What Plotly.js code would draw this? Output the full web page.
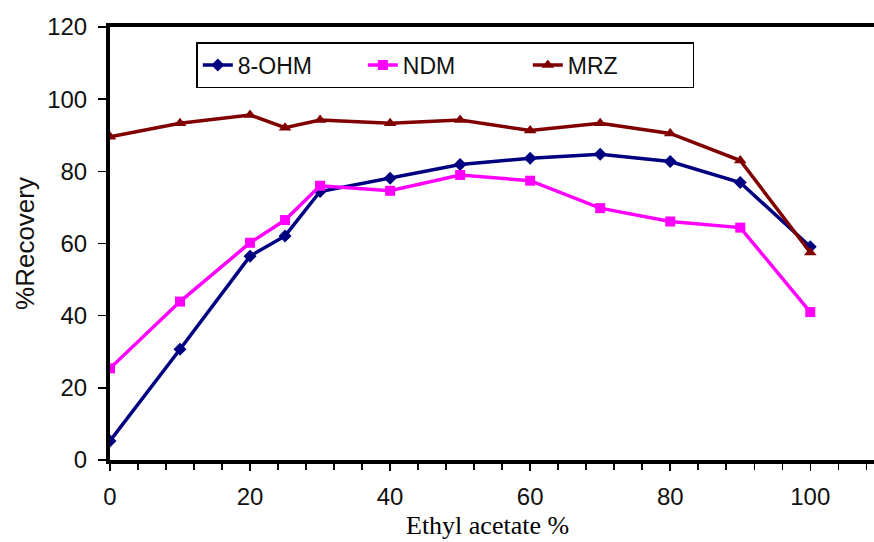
<!DOCTYPE html>
<html>
<head>
<meta charset="utf-8">
<script src="https://cdn.plot.ly/plotly-3.0.1.min.js"></script>
<style>
  html, body { margin: 0; padding: 0; background: #fff; }
  #chart { width: 874px; height: 542px; }
</style>
</head>
<body>
<div id="chart"></div>
<script>
// Ethyl acetate percentage (x) and % recovery of each analyte
const ethylAcetate = [0, 10, 20, 25, 30, 40, 50, 60, 70, 80, 90, 100];
const ohm8 = [5.3, 30.7, 56.5, 62.1, 74.4, 78.1, 81.9, 83.6, 84.7, 82.7, 76.9, 59.1];
const ndm  = [25.4, 43.9, 60.2, 66.5, 76.0, 74.6, 79.0, 77.4, 69.8, 66.1, 64.4, 41.0];
const mrz  = [89.6, 93.3, 95.6, 92.1, 94.2, 93.3, 94.2, 91.3, 93.3, 90.5, 83.0, 57.5];
const seriesNames = ['8-OHM', 'NDM', 'MRZ'];
const xTickVals = [0, 20, 40, 60, 80, 100];
const yTickVals = [0, 20, 40, 60, 80, 100, 120];
const xTitle = 'Ethyl acetate %';
const yTitle = '%Recovery';

const traces = [
  {x: ethylAcetate, y: ohm8, name: seriesNames[0], mode: 'lines+markers',
   line: {color: '#000080', width: 3.5}, marker: {symbol: 'diamond', size: 10, color: '#000080'}},
  {x: ethylAcetate, y: ndm, name: seriesNames[1], mode: 'lines+markers',
   line: {color: '#FF00FF', width: 3.5}, marker: {symbol: 'square', size: 10, color: '#FF00FF'}},
  {x: ethylAcetate, y: mrz, name: seriesNames[2], mode: 'lines+markers',
   line: {color: '#800000', width: 3.5}, marker: {symbol: 'triangle-up', size: 11, color: '#800000'}}
];

const tickFont = {family: 'Liberation Sans, Arial, sans-serif', size: 24, color: '#111'};

const layout = {
  width: 874, height: 542,
  margin: {l: 110, r: 0, t: 27, b: 82},
  paper_bgcolor: '#fff', plot_bgcolor: '#fff',
  showlegend: true,
  legend: {
    orientation: 'h', x: 0.113, xanchor: 'left', y: 0.965, yanchor: 'top',
    bgcolor: '#fff', bordercolor: '#000', borderwidth: 1.5,
    font: {family: 'Liberation Sans, Arial, sans-serif', size: 23, color: '#111'},
    itemwidth: 30, entrywidth: 120, entrywidthmode: 'pixels'
  },
  xaxis: {
    range: [0, 109.1], tickvals: xTickVals, ticktext: xTickVals.map(String),
    showgrid: false, zeroline: false,
    showline: true, linecolor: '#000', linewidth: 4, mirror: true,
    ticks: 'outside', ticklen: 7, tickwidth: 1.5, tickcolor: '#000',
    minor: {dtick: 4, tick0: 0, ticks: 'outside', ticklen: 6, tickwidth: 1.5, tickcolor: '#000', showgrid: false},
    tickfont: tickFont, ticklabelstandoff: 5
  },
  yaxis: {
    range: [0, 120], tickvals: yTickVals, ticktext: yTickVals.map(String),
    showgrid: false, zeroline: false,
    showline: true, linecolor: '#000', linewidth: 4,
    ticks: 'outside', ticklen: 8, tickwidth: 1.5, tickcolor: '#000',
    tickfont: tickFont, ticklabelstandoff: 6,
    title: {text: yTitle, font: {family: 'Liberation Sans, Arial, sans-serif', size: 26, color: '#111'}, standoff: 6}
  },
  annotations: [{
    text: xTitle, xref: 'paper', yref: 'paper', x: 0.4935, y: -0.152,
    xanchor: 'center', yanchor: 'middle', showarrow: false,
    font: {family: 'Liberation Serif, Times New Roman, serif', size: 26, color: '#000'}
  }]
};

Plotly.newPlot('chart', traces, layout, {displayModeBar: false, staticPlot: true});
</script>
</body>
</html>
